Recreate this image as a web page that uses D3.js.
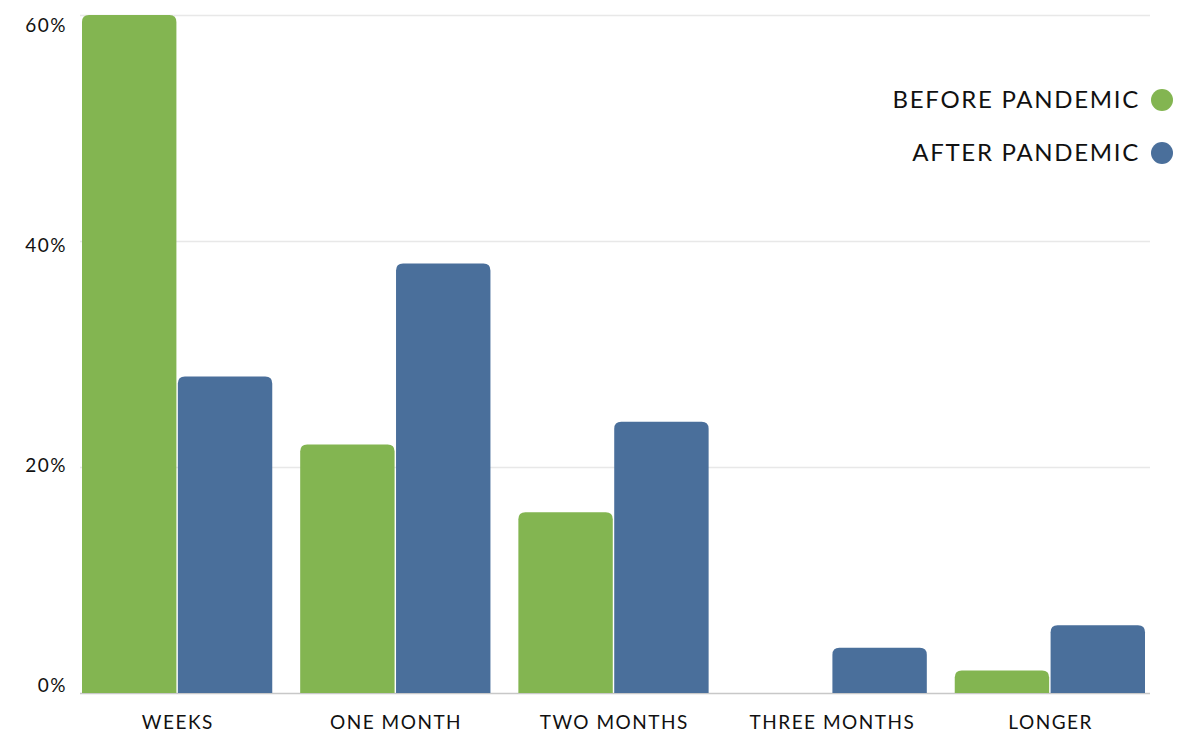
<!DOCTYPE html>
<html>
<head>
<meta charset="utf-8">
<script src="https://cdn.jsdelivr.net/npm/d3@7"></script>
<style>
  html, body { margin: 0; padding: 0; background: #fff; }
  svg { display: block; font-family: "Lato", "Noto Sans", sans-serif; }
</style>
</head>
<body>
<svg id="chart" width="1201" height="735"></svg>
<script>
// Time taken, before vs after the pandemic (share of responses)
const categories = ["WEEKS", "ONE MONTH", "TWO MONTHS", "THREE MONTHS", "LONGER"];
const beforeValues = [60, 22, 16, 0, 2];
const afterValues = [28, 38, 24, 4, 6];
const seriesNames = ["BEFORE PANDEMIC", "AFTER PANDEMIC"];
const seriesColors = ["#83b551", "#4a6f9b"];
const yTicks = [0, 20, 40, 60];

const svg = d3.select("#chart");

const x = d3.scaleBand()
  .domain(categories)
  .range([82, 1145])
  .paddingInner(0.128)
  .paddingOuter(0);

const sub = d3.scaleBand()
  .domain(seriesNames)
  .range([0, x.bandwidth()])
  .paddingInner(0.015);

const y = d3.scaleLinear().domain([0, 60]).range([693, 15]);
// tick labels sit a little inside the gridlines in the original
const yLabel = d3.scaleLinear().domain([0, 60]).range([685, 25]);

// gridlines
svg.append("g")
  .selectAll("line")
  .data(yTicks)
  .join("line")
  .attr("x1", 80)
  .attr("x2", 1150)
  .attr("y1", d => y(d) + 0.5)
  .attr("y2", d => y(d) + 0.5)
  .attr("stroke", d => d === 0 ? "#c8c8c8" : "#e8e8e8")
  .attr("stroke-width", 1.5);

// y labels
svg.append("g")
  .selectAll("text")
  .data(yTicks)
  .join("text")
  .attr("x", 67)
  .attr("y", d => yLabel(d))
  .attr("dy", "0.35em")
  .attr("text-anchor", "end")
  .attr("font-size", 19)
  .attr("letter-spacing", 1.5)
  .attr("fill", "#111")
  .text(d => d + "%");

// bars with rounded tops
function topRounded(x0, y0, w, h, r) {
  if (h <= 0) return "";
  r = Math.min(r, h, w / 2);
  return `M${x0},${y0 + h}V${y0 + r}Q${x0},${y0} ${x0 + r},${y0}` +
    `H${x0 + w - r}Q${x0 + w},${y0} ${x0 + w},${y0 + r}V${y0 + h}Z`;
}

const rows = categories.map((c, i) => ({
  cat: c,
  vals: [beforeValues[i], afterValues[i]],
}));

const groups = svg.append("g")
  .selectAll("g")
  .data(rows)
  .join("g")
  .attr("transform", d => `translate(${x(d.cat)},0)`);

groups.selectAll("path")
  .data(d => d.vals.map((v, j) => ({ name: seriesNames[j], v, j })))
  .join("path")
  .attr("fill", d => seriesColors[d.j])
  .attr("d", d => topRounded(sub(d.name), y(d.v), sub.bandwidth(), y(0) - y(d.v), 7));

// x labels
svg.append("g")
  .selectAll("text")
  .data(categories)
  .join("text")
  .attr("x", d => x(d) + x.bandwidth() / 2 + 0.75)
  .attr("y", 722)
  .attr("dy", "0.35em")
  .attr("text-anchor", "middle")
  .attr("font-size", 19)
  .attr("letter-spacing", 1.5)
  .attr("fill", "#111")
  .text(d => d);

// legend
const legend = svg.append("g")
  .selectAll("g")
  .data(seriesNames)
  .join("g")
  .attr("transform", (d, i) => `translate(0,${100 + i * 53})`);

legend.append("text")
  .attr("x", 1140)
  .attr("dy", "0.35em")
  .attr("text-anchor", "end")
  .attr("font-size", 24)
  .attr("letter-spacing", 1.7)
  .attr("fill", "#111")
  .text(d => d);

legend.append("circle")
  .attr("cx", 1162)
  .attr("cy", 0)
  .attr("r", 11)
  .attr("fill", (d, i) => seriesColors[i]);
</script>
</body>
</html>
